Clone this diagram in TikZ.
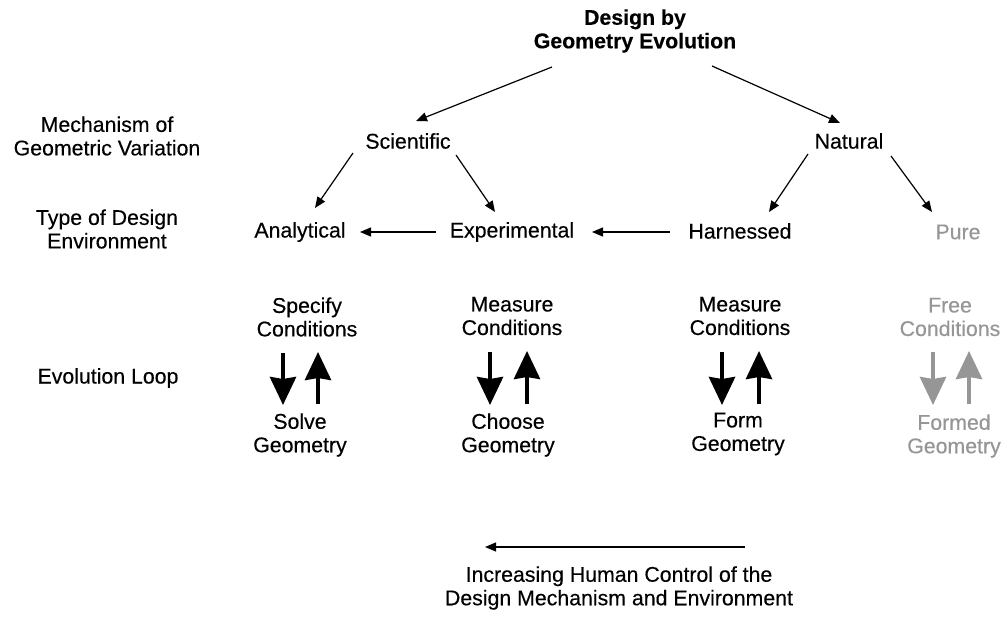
\documentclass[tikz,border=0pt]{standalone}
\usepackage{fontspec}
\setmainfont{Liberation Sans}[FakeBold=0.3]
\usetikzlibrary{arrows.meta}
\definecolor{faded}{RGB}{150,150,150}
\begin{document}
\begin{tikzpicture}[x=1pt,y=-1pt,
  lbl/.style={inner sep=0pt,align=center,font=\fontsize{21.3}{23.5}\selectfont},
  head/.style={lbl,font=\fontsize{21.3}{23.5}\selectfont\bfseries},
  pale/.style={text=faded},
  link/.style={line width=1.2pt,-{Triangle[length=11pt,width=9pt]}},
  loop/.style={line width=4pt,-{Stealth[length=28pt,width=26pt,inset=2pt]}},
  paleloop/.style={loop,draw=faded}]
\useasboundingbox (0,0) rectangle (1002,619);

% headline
\node[head] (title) at (635,31) {Design by\\Geometry Evolution};

% row captions
\node[lbl] (mech) at (107,136) {Mechanism of\\Geometric Variation};
\node[lbl] (envtype) at (107,229) {Type of Design\\Environment};
\node[lbl] (looplbl) at (108,378) {Evolution Loop};

% mechanisms
\node[lbl] (sci) at (408,141) {Scientific};
\node[lbl] (nat) at (849,141) {Natural};

% environments
\node[lbl] (ana) at (300,232) {Analytical};
\node[lbl] (exp) at (512,232) {Experimental};
\node[lbl] (har) at (740,231) {Harnessed};
\node[lbl,pale] (pure) at (958,232) {Pure};

% loop ends
\node[lbl] (spec) at (307,317) {Specify\\Conditions};
\node[lbl] (meas1) at (512,316) {Measure\\Conditions};
\node[lbl] (meas2) at (740,316) {Measure\\Conditions};
\node[lbl,pale] (free) at (950,317) {Free\\Conditions};
\node[lbl] (solve) at (300,435) {Solve\\Geometry};
\node[lbl] (choose) at (508,435) {Choose\\Geometry};
\node[lbl] (form) at (738,434) {Form\\Geometry};
\node[lbl,pale] (formed) at (954,436) {Formed\\Geometry};

% caption under the control arrow
\node[lbl] (ctrl) at (619,588) {Increasing Human Control of the\\Design Mechanism and Environment};
\coordinate (ctrlR) at (745,547);
\coordinate (ctrlL) at (485,547);

% hierarchy links
\draw[link] ([shift={(-83,36)}]title.center) -- ([shift={(8,-20)}]sci.center);
\draw[link] ([shift={(77,35)}]title.center) -- ([shift={(-9,-18)}]nat.center);
\draw[link] ([shift={(-55,12)}]sci.center) -- ([shift={(15,-24)}]ana.center);
\draw[link] ([shift={(48,14)}]sci.center) -- ([shift={(-17,-20)}]exp.center);
\draw[link] ([shift={(-41,13)}]nat.center) -- ([shift={(29,-19)}]har.center);
\draw[link] ([shift={(42,15)}]nat.center) -- ([shift={(-26,-20)}]pure.center);
\draw[link] ([shift={(-76,0)}]exp.center) -- ([shift={(60,0)}]ana.center);
\draw[link] ([shift={(-70,1)}]har.center) -- ([shift={(80,0)}]exp.center);

% evolution loops
\draw[loop] ([shift={(-24,36)}]spec.center) -- ([shift={(-17,-30)}]solve.center);
\draw[loop] ([shift={(18,-31)}]solve.center) -- ([shift={(11,35)}]spec.center);
\draw[loop] ([shift={(-22,36)}]meas1.center) -- ([shift={(-18,-30)}]choose.center);
\draw[loop] ([shift={(19,-31)}]choose.center) -- ([shift={(15,35)}]meas1.center);
\draw[loop] ([shift={(-18,36)}]meas2.center) -- ([shift={(-16,-29)}]form.center);
\draw[loop] ([shift={(21,-30)}]form.center) -- ([shift={(19,35)}]meas2.center);
\draw[paleloop] ([shift={(-17,35)}]free.center) -- ([shift={(-21,-31)}]formed.center);
\draw[paleloop] ([shift={(15,-32)}]formed.center) -- ([shift={(19,34)}]free.center);

% control direction
\draw[link] (ctrlR) -- (ctrlL);
\end{tikzpicture}
\end{document}
